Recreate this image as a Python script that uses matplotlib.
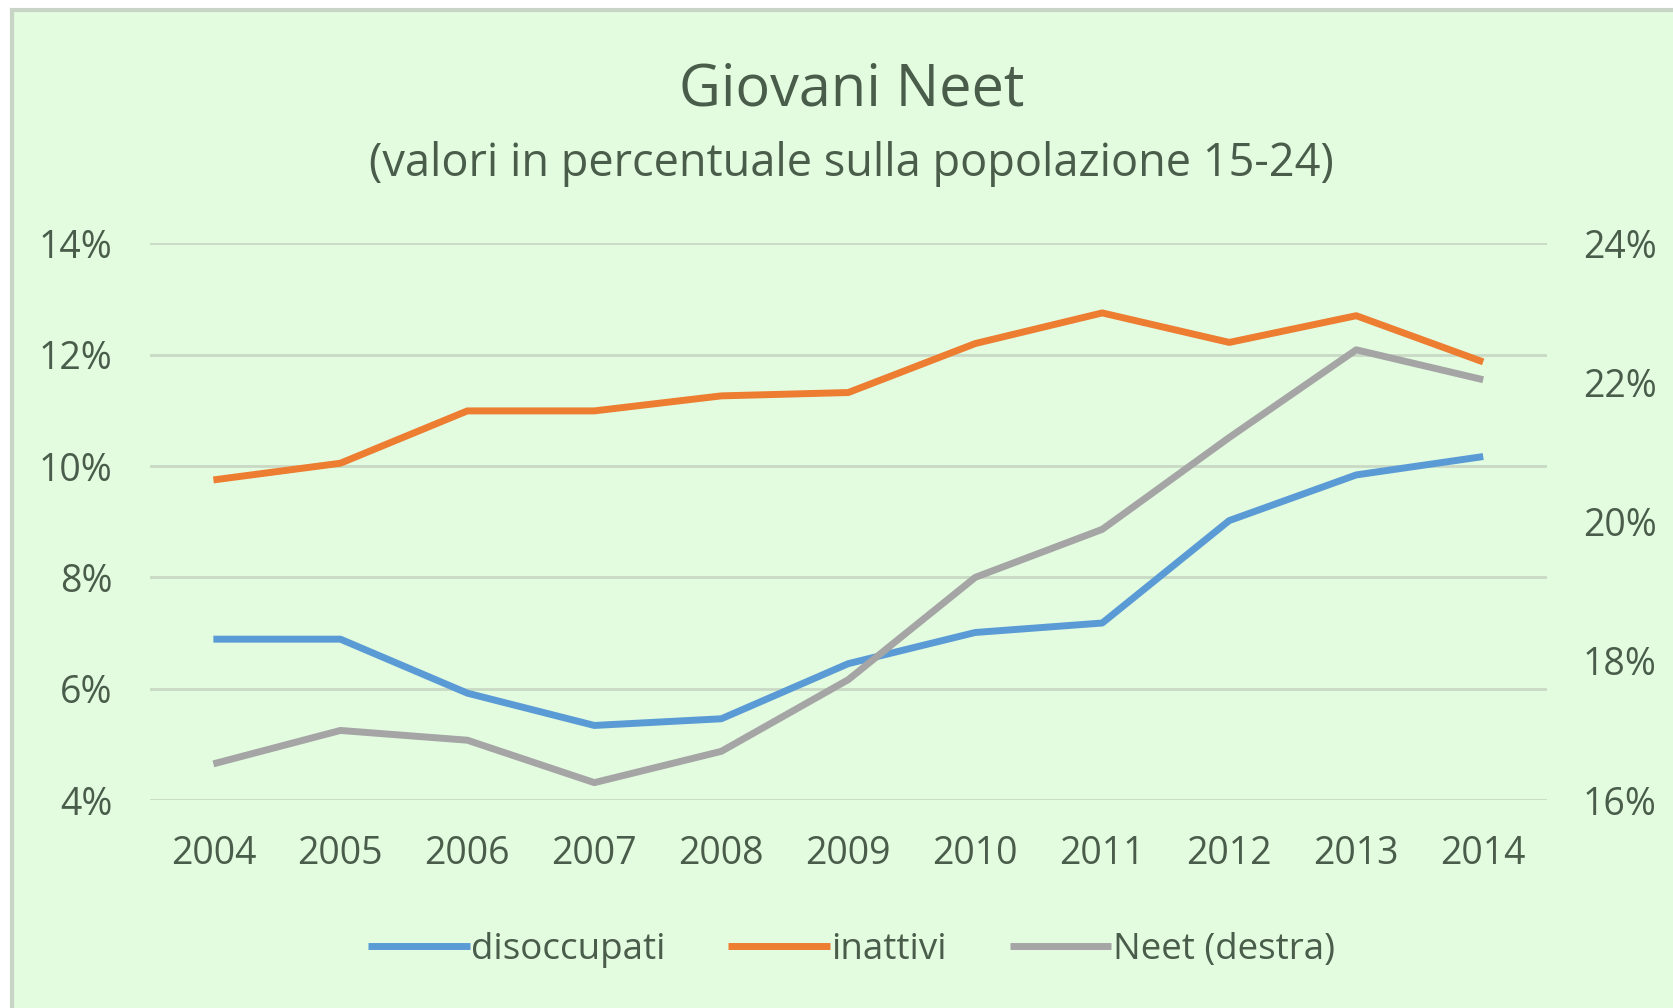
import matplotlib
matplotlib.use('Agg')
import matplotlib.pyplot as plt
from matplotlib.patches import Rectangle
from matplotlib.ticker import FuncFormatter

years = ['2004', '2005', '2006', '2007', '2008', '2009', '2010', '2011', '2012', '2013', '2014']
disoccupati = [6.89, 6.89, 5.92, 5.34, 5.46, 6.45, 7.01, 7.18, 9.02, 9.84, 10.17]
inattivi = [9.75, 10.05, 10.99, 10.99, 11.26, 11.32, 12.20, 12.75, 12.22, 12.70, 11.87]
neet = [16.52, 17.00, 16.86, 16.25, 16.70, 17.73, 19.20, 19.89, 21.21, 22.47, 22.04]

left_ticks = [4, 6, 8, 10, 12, 14]
right_ticks = [16, 18, 20, 22, 24]

bg = '#e3fce0'
txt = '#4a5c4a'
grid = '#c9d9c5'

plt.rcParams['font.family'] = ['Open Sans', 'DejaVu Sans']

fig = plt.figure(figsize=(16.73, 10.08), dpi=100)
fig.patch.set_facecolor('white')
# green chart area with grey border (only top/left visible in the original)
fig.patches.append(Rectangle((12 / 1673, -0.1), 1.1, 1.1 - 10 / 1008, transform=fig.transFigure,
                             facecolor=bg, edgecolor='#c8d4c6', linewidth=3, zorder=-1))

ax = fig.add_axes([0.0896, 0.2063, 0.8349, 0.5523])
ax.set_facecolor('none')
ax2 = ax.twinx()

x = list(range(len(years)))
l1, = ax.plot(x, disoccupati, color='#5b9bd5', lw=5, solid_capstyle='butt', label='disoccupati')
l2, = ax.plot(x, inattivi, color='#ed7d31', lw=5, solid_capstyle='butt', label='inattivi')
l3, = ax2.plot(x, neet, color='#a5a5a5', lw=5, solid_capstyle='butt', label='Neet (destra)')

ax.set_xlim(-0.5, len(years) - 0.5)
ax.set_ylim(4, 14)
ax2.set_ylim(16, 24)
ax.set_xticks(x)
ax.set_xticklabels(years)
ax.set_yticks(left_ticks)
ax2.set_yticks(right_ticks)
pct = FuncFormatter(lambda v, p: f'{v:.0f}%')
ax.yaxis.set_major_formatter(pct)
ax2.yaxis.set_major_formatter(pct)

for a in (ax, ax2):
    for s in a.spines.values():
        s.set_visible(False)
    a.tick_params(length=0, labelsize=27, labelcolor=txt)
ax.tick_params(axis='y', pad=27)
ax2.tick_params(axis='y', pad=26)
ax.tick_params(axis='x', pad=25)

ax.grid(axis='y', color=grid, lw=2)
ax.set_axisbelow(True)

cx = 0.509
fig.text(cx, 0.9105, 'Giovani Neet', ha='center', va='center', fontsize=41.5, color=txt)
fig.text(cx, 0.837, '(valori in percentuale sulla popolazione 15-24)', ha='center', va='center',
         fontsize=32.5, color=txt)

fig.legend(handles=[l1, l2, l3], loc='center', bbox_to_anchor=(cx, 0.058), ncol=3, frameon=False,
           fontsize=26.5, labelcolor=txt, handlelength=2.75, handletextpad=0.05, columnspacing=1.7)

fig.savefig('out.png', dpi=100, facecolor=fig.get_facecolor())
